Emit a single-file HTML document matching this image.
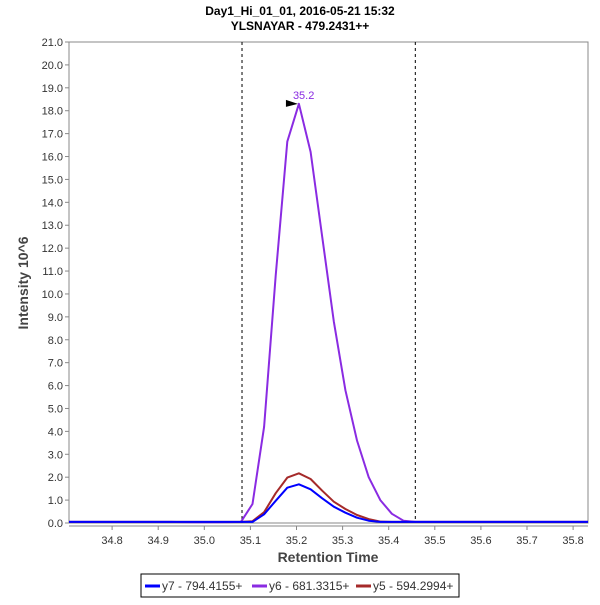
<!DOCTYPE html>
<html><head><meta charset="utf-8"><style>
body{margin:0;background:#fff;font-family:"Liberation Sans",sans-serif}
svg text{font-family:"Liberation Sans",sans-serif}
</style></head><body>
<svg id="c" width="600" height="600">
<defs><clipPath id="clip"><rect x="69" y="42" width="519" height="482"/></clipPath></defs>
<text x="300" y="15" text-anchor="middle" font-size="12" font-weight="bold" fill="#000">Day1_Hi_01_01, 2016-05-21 15:32</text>
<text x="300" y="30" text-anchor="middle" font-size="12" font-weight="bold" fill="#000">YLSNAYAR - 479.2431++</text>
<text transform="translate(28,283) rotate(-90)" text-anchor="middle" font-size="14" font-weight="bold" fill="#444">Intensity 10^6</text>
<text x="328" y="562" text-anchor="middle" font-size="14" font-weight="bold" fill="#444">Retention Time</text>
<g id="plot"></g>
<g>
<rect x="141" y="574" width="318" height="23" fill="#fff" stroke="#000"/>
<g><line x1="145" y1="586" x2="160" y2="586" stroke="#0000ff" stroke-width="3"/><text x="162" y="590" font-size="12" fill="#333">y7 - 794.4155+</text></g>
<g><line x1="252" y1="586" x2="267" y2="586" stroke="#8a2be2" stroke-width="3"/><text x="269" y="590" font-size="12" fill="#333">y6 - 681.3315+</text></g>
<g><line x1="356" y1="586" x2="371" y2="586" stroke="#a52a2a" stroke-width="3"/><text x="373" y="590" font-size="12" fill="#333">y5 - 594.2994+</text></g>
</g>
</svg>
<script>
const startTime = 34.7013;
const stepTime = 0.0252;
const y6Values = [0.05,0.05,0.05,0.05,0.05,0.05,0.05,0.05,0.05,0.05,0.04,0.03,0.03,0.03,0.04,0.05,0.83,4.2,10.8,16.65,18.3,16.2,12.5,8.8,5.8,3.6,2.0,1.0,0.4,0.1,0.05,0.05,0.05,0.05,0.05,0.05,0.05,0.05,0.05,0.05,0.05,0.05,0.05,0.05,0.05,0.05];
const y5Values = [0.05,0.05,0.05,0.05,0.05,0.05,0.05,0.05,0.05,0.05,0.05,0.05,0.05,0.05,0.05,0.05,0.08,0.47,1.3,1.98,2.17,1.92,1.41,0.93,0.61,0.35,0.17,0.06,0.05,0.05,0.05,0.05,0.05,0.05,0.05,0.05,0.05,0.05,0.05,0.05,0.05,0.05,0.05,0.05,0.05,0.05];
const y7Values = [0.05,0.05,0.05,0.05,0.05,0.05,0.05,0.05,0.05,0.05,0.05,0.05,0.05,0.05,0.05,0.05,0.05,0.38,0.97,1.54,1.69,1.47,1.08,0.71,0.45,0.23,0.1,0.05,0.05,0.05,0.05,0.05,0.05,0.05,0.05,0.05,0.05,0.05,0.05,0.05,0.05,0.05,0.05,0.05,0.05,0.05];
const xTicks = [34.8,34.9,35.0,35.1,35.2,35.3,35.4,35.5,35.6,35.7,35.8];
const yTicks = [0,1,2,3,4,5,6,7,8,9,10,11,12,13,14,15,16,17,18,19,20,21];
const boundaries = [35.0818,35.4577];
const peakTime = [35.2];
const peakValue = [18.3];

const L=69,R=588,T=42,B=523,xmin=34.7065,xmax=35.8323,ymax=21;
const sx=t=>L+(t-xmin)/(xmax-xmin)*(R-L);
const sy=v=>B-v/ymax*(B-T);
const NS='http://www.w3.org/2000/svg';
const g=document.getElementById('plot');
function mk(tag,attrs,parent){const e=document.createElementNS(NS,tag);for(const k in attrs)e.setAttribute(k,attrs[k]);(parent||g).appendChild(e);return e;}
const frame=mk('rect',{x:L,y:T,width:R-L,height:B-T,fill:'#fff',stroke:'#888','stroke-width':1});


yTicks.forEach(v=>{
  const y=sy(v);
  const tk=mk('line',{x1:L-4,x2:L,y1:y,y2:y,stroke:'#888'});
  
  
  const tx=mk('text',{x:L-6,y:y+4,'text-anchor':'end','font-size':11,fill:'#333'});
  tx.textContent=v.toFixed(1);
  
  
});
mk('line',{x1:L,x2:R,y1:B+3,y2:B+3,stroke:'#888'});
xTicks.forEach(t=>{
  const x=sx(t);
  const tk=mk('line',{x1:x,x2:x,y1:B+3,y2:B+7,stroke:'#888'});
  
  
  const tx=mk('text',{x:x,y:B+21,'text-anchor':'middle','font-size':11,fill:'#333'});
  tx.textContent=t.toFixed(1);
  
  
});
boundaries.forEach(t=>{
  const l=mk('line',{x1:sx(t),x2:sx(t),y1:T,y2:B,stroke:'#000','stroke-dasharray':'3,3'});
  
  
});
const sg=mk('g',{'clip-path':'url(#clip)'});
function series(vals,color,name){
  const pts=vals.map((v,i)=>sx(startTime+i*stepTime).toFixed(1)+','+sy(v).toFixed(1)).join(' ');
  const p=mk('polyline',{points:pts,fill:'none',stroke:color,'stroke-width':2,'stroke-linejoin':'round'},sg);
  
  
}
series(y6Values,'#8a2be2','series-y6');
series(y5Values,'#a52a2a','series-y5');
series(y7Values,'#0000ff','series-y7');
const px=sx(startTime+20*stepTime),py=sy(peakValue[0]);
const m=mk('polygon',{points:`${px-1},${py} ${px-13},${py-4} ${px-13},${py+3}`,fill:'#000'});


const pl=mk('text',{x:px-6,y:py-5,'font-size':11,fill:'#8a2be2'});
pl.textContent=peakTime[0].toFixed(1);


</script>
</body></html>
